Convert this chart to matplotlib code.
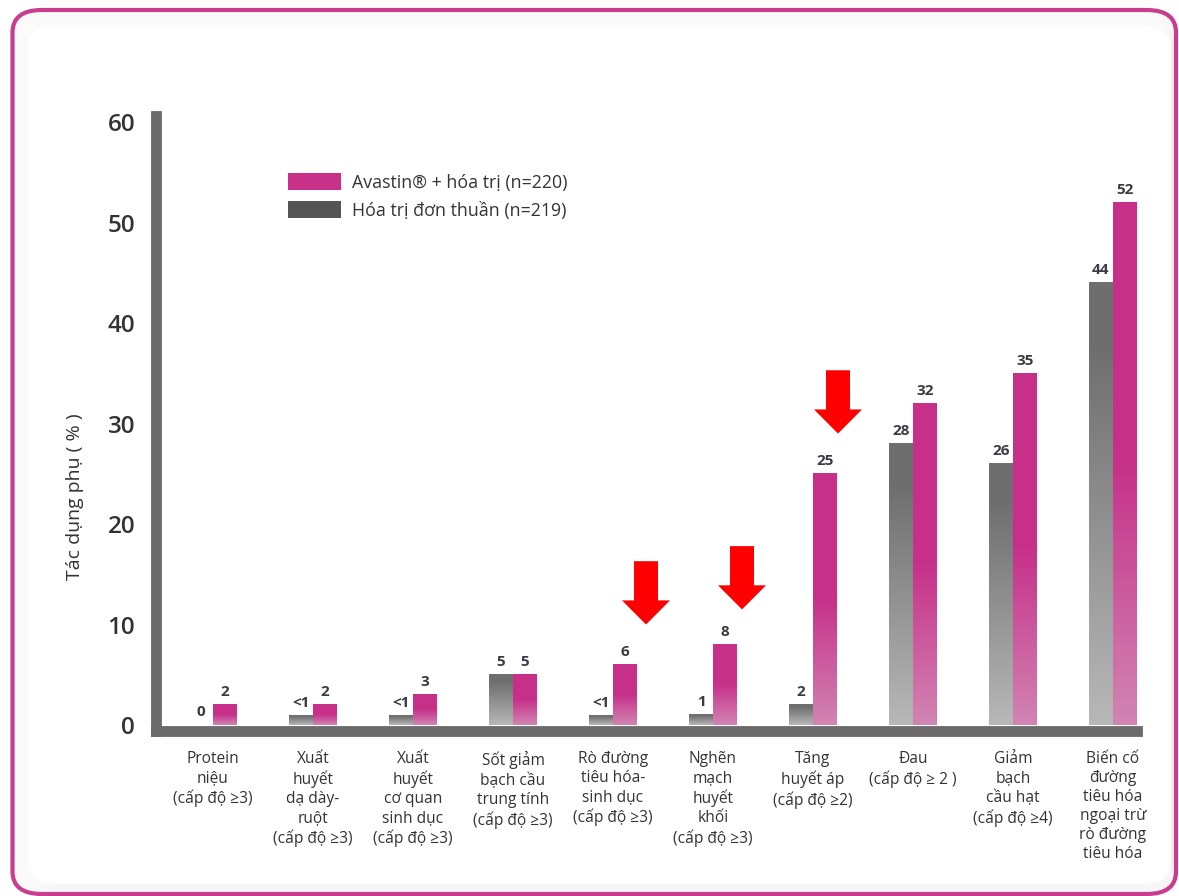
import numpy as np
import matplotlib.pyplot as plt
from matplotlib.patches import FancyBboxPatch, FancyArrow, Patch
from matplotlib.transforms import ScaledTranslation

plt.rcParams['font.family'] = ['Open Sans', 'DejaVu Sans']

categories = [
    "Protein\nniệu\n(cấp độ ≥3)",
    "Xuất\nhuyết\ndạ dày-\nruột\n(cấp độ ≥3)",
    "Xuất\nhuyết\ncơ quan\nsinh dục\n(cấp độ ≥3)",
    "Sốt giảm\nbạch cầu\ntrung tính\n(cấp độ ≥3)",
    "Rò đường\ntiêu hóa-\nsinh dục\n(cấp độ ≥3)",
    "Nghẽn\nmạch\nhuyết\nkhối\n(cấp độ ≥3)",
    "Tăng\nhuyết áp\n(cấp độ ≥2)",
    "Đau\n(cấp độ ≥ 2 )",
    "Giảm\nbạch\ncầu hạt\n(cấp độ ≥4)",
    "Biến cố\nđường\ntiêu hóa\nngoại trừ\nrò đường\ntiêu hóa",
]
chemo = [0, 0.9, 0.9, 5, 0.9, 1, 2, 28, 26, 44]
chemo_labels = ["0", "<1", "<1", "5", "<1", "1", "2", "28", "26", "44"]
avastin = [2, 2, 3, 5, 6, 8, 25, 32, 35, 52]
avastin_labels = [str(v) for v in avastin]
highlight = [4, 5, 6]   # groups marked with red arrows

pink_dark = np.array([0.780, 0.192, 0.541])
pink_light = np.array([0.820, 0.520, 0.700])
gray_dark = np.array([0.435, 0.435, 0.435])
gray_light = np.array([0.720, 0.720, 0.720])

fig = plt.figure(figsize=(11.79, 8.96), dpi=100)

# rounded pink frame with a soft inner shadow
W, H = 1179, 896
x0, y0, x1, y1 = 12.5, 2, 1176, 886
for k in range(8, 0, -1):
    fig.patches.append(FancyBboxPatch(
        ((x0 + k * 1.8) / W, (y0 + k * 1.2) / H),
        (x1 - x0 - k * 2.4) / W, (y1 - y0 - k * 3.0) / H,
        boxstyle="round,pad=0,rounding_size=0.025",
        transform=fig.transFigure, facecolor='none',
        edgecolor=(0.55, 0.55, 0.55, 0.02), linewidth=2.5))
fig.patches.append(FancyBboxPatch(
    (x0 / W, y0 / H), (x1 - x0) / W, (y1 - y0) / H,
    boxstyle="round,pad=0,rounding_size=0.025",
    transform=fig.transFigure, facecolor='none',
    edgecolor='#c93d8f', linewidth=3))

ax = fig.add_axes([156 / W, (H - 730.5) / H, 981 / W, 614.5 / H])

w = 0.24


def grad_bar(xl, v, dark, light, solid):
    if v <= 0:
        return
    t = np.linspace(0, 1, 200)
    f = np.clip(t / (1 - solid), 0, 1)
    rgb = light[None, :] * (1 - f[:, None]) + dark[None, :] * f[:, None]
    img = np.repeat(rgb[:, None, :], 2, axis=1)
    ax.imshow(img, extent=[xl, xl + w, 0, v], origin='lower',
              aspect='auto', zorder=2, interpolation='bilinear')


for i in range(len(categories)):
    grad_bar(i - w, chemo[i], gray_dark, gray_light, 0.15)
    grad_bar(i, avastin[i], pink_dark, pink_light, 0.5)
    ax.annotate(chemo_labels[i], (i - w / 2, chemo[i]), xytext=(0, 4),
                textcoords='offset points', ha='center', va='bottom',
                fontsize=11, fontweight='bold', color='#3a3a44')
    ax.annotate(avastin_labels[i], (i + w / 2, avastin[i]), xytext=(0, 4),
                textcoords='offset points', ha='center', va='bottom',
                fontsize=11, fontweight='bold', color='#3a3a44')

# red arrows above the highlighted groups
arrow_dx = [0.33, 0.29, 0.25]
arrow_gap = [4.0, 3.5, 4.0]
for g, dx, gap in zip(highlight, arrow_dx, arrow_gap):
    tip = avastin[g] + gap
    length = 6.3
    ax.add_patch(FancyArrow(g + dx, tip + length, 0, -length, width=0.24,
                            head_width=0.48, head_length=2.4,
                            length_includes_head=True, color='#ff0000',
                            linewidth=0, zorder=4))

ax.set_xlim(-0.57, 9.24)
ax.set_ylim(-0.547, 60.6)

ax.set_yticks(range(0, 61, 10))
ax.set_yticklabels([str(v) for v in range(0, 61, 10)], fontsize=17.5,
                   fontweight='semibold', color='#333333')
for lab in ax.get_yticklabels():
    lab.set_transform(lab.get_transform() + ScaledTranslation(0, 5 / 100, fig.dpi_scale_trans))
ax.tick_params(axis='y', length=0, pad=15)

ax.set_xticks(range(len(categories)))
ax.set_xticklabels(categories, fontsize=11.2, color='#333333', linespacing=1.25)
ax.tick_params(axis='x', length=0, pad=15)

for side in ['top', 'right']:
    ax.spines[side].set_visible(False)
for side in ['left', 'bottom']:
    ax.spines[side].set_linewidth(7.8)
    ax.spines[side].set_color('#6b6b6b')
    ax.spines[side].set_capstyle('projecting')

ax.text(-0.0826, 0.381, "Tác dụng phụ ( % )", transform=ax.transAxes,
        rotation=90, ha='center', va='center', fontsize=14, color='#333333')

handles = [Patch(facecolor='#c7318a', label='Avastin® + hóa trị (n=220)'),
           Patch(facecolor='#555555', label='Hóa trị đơn thuần (n=219)')]
ax.legend(handles=handles, loc='upper left', bbox_to_anchor=(0.1346, 0.9072),
          frameon=False, fontsize=12.8, handlelength=3.0, handleheight=1.1,
          handletextpad=0.6, labelspacing=0.55, borderpad=0, borderaxespad=0,
          labelcolor='#333333')

fig.savefig('out.png', dpi=100)
